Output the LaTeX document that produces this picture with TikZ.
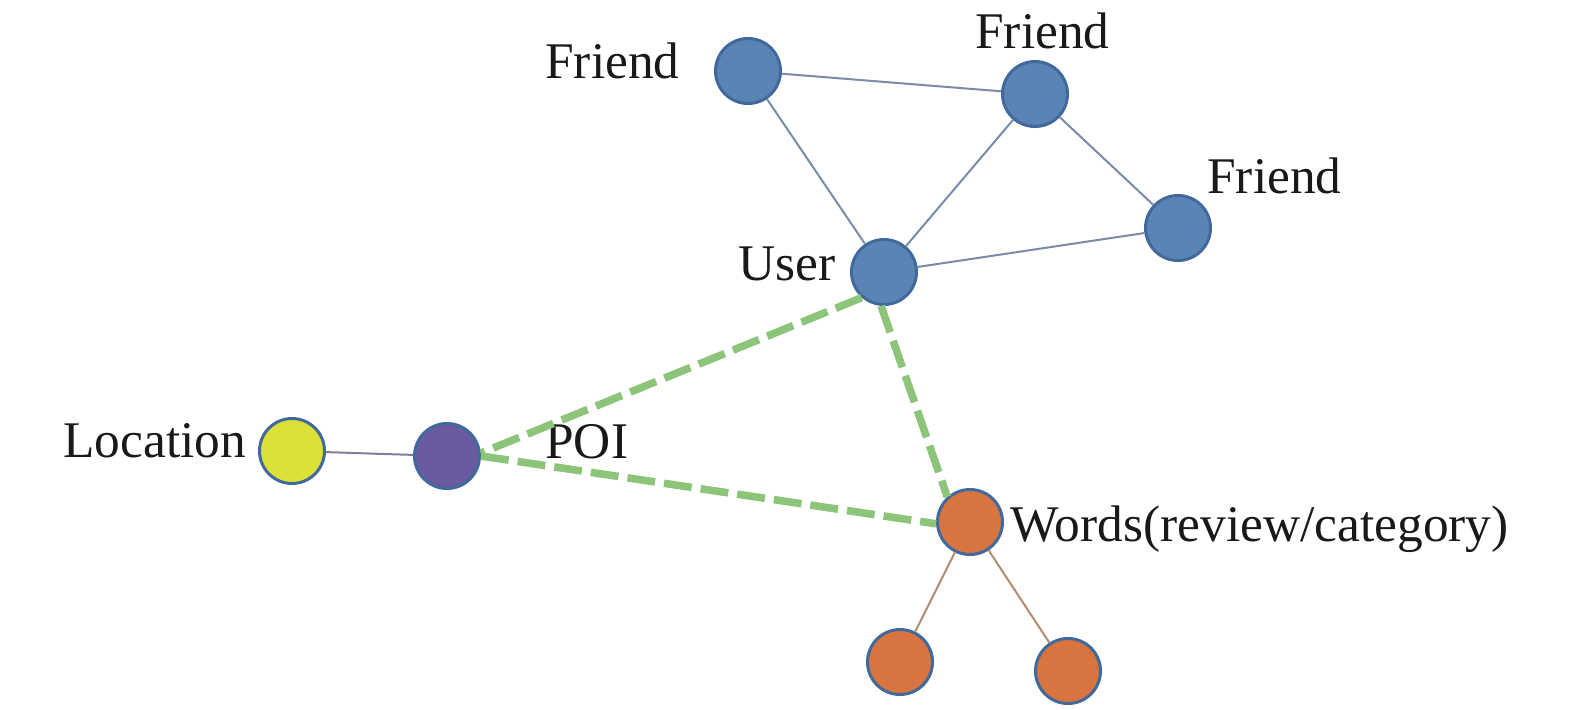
\documentclass[tikz,border=0pt]{standalone}
\usepackage{fontspec}
\setmainfont{Liberation Serif}
\definecolor{bluefill}{HTML}{5A84B3}
\definecolor{nodeborder}{HTML}{41699B}
\definecolor{orangefill}{HTML}{D7743F}
\definecolor{yellowfill}{HTML}{DCE13A}
\definecolor{purplefill}{HTML}{6A5B9E}
\definecolor{edgeblue}{HTML}{7A8BAA}
\definecolor{edgebrown}{HTML}{B38B6D}
\definecolor{edgepurple}{HTML}{85799D}
\definecolor{dashgreen}{HTML}{8CC57A}
\tikzset{
  vert/.style={circle, draw=nodeborder, line width=1.5pt, minimum size=32.5pt, inner sep=0pt},
  bluev/.style={vert, fill=bluefill},
  orangev/.style={vert, fill=orangefill},
  lbl/.style={anchor=base west, inner sep=0pt, font=\fontsize{25.7}{30}\selectfont, text=black!90},
  soft/.style={line width=1pt},
  rel/.style={draw=dashgreen, line width=3.8pt, dash pattern=on 14pt off 4.5pt}
}
\begin{document}
\begin{tikzpicture}[x=0.5pt,y=-0.5pt]
\useasboundingbox (0,0) rectangle (1575,709);
% vertices
\node[bluev] (f1) at (748,71) {};
\node[bluev] (f2) at (1035,94) {};
\node[bluev] (f3) at (1178,228) {};
\node[bluev] (user) at (884,272) {};
\node[vert, fill=yellowfill] (loc) at (292,451) {};
\node[vert, fill=purplefill] (poi) at (447,456) {};
\node[orangev] (words) at (970,522) {};
\node[orangev] (w1) at (900,662) {};
\node[orangev] (w2) at (1068,671) {};
% labels
\node[lbl] (lf1) at (545,78) {Friend};
\node[lbl] (lf2) at (975,48) {Friend};
\node[lbl] (lf3) at (1207,193) {Friend};
\node[lbl] (luser) at (738,280) {User};
\node[lbl] (lloc) at (63,457) {Location};
\node[lbl] (lpoi) at (545,458) {POI};
\node[lbl] (lwords) at (1010,541) {Words(review/category)};
% solid edges
\draw[soft, edgeblue] (f1) -- (f2);
\draw[soft, edgeblue] (f1) -- (user);
\draw[soft, edgeblue] (f2) -- (user);
\draw[soft, edgeblue] (f2) -- (f3);
\draw[soft, edgeblue] (f3) -- (user);
\draw[soft, edgepurple] (loc) -- (poi);
\draw[soft, edgebrown] (words) -- (w1);
\draw[soft, edgebrown] (words) -- (w2);
% dashed relations
\draw[rel] (user.229) -- (poi.5);
\draw[rel] (poi.0) -- (words.183);
\draw[rel] (user.265) -- (words.132);
\end{tikzpicture}
\end{document}
